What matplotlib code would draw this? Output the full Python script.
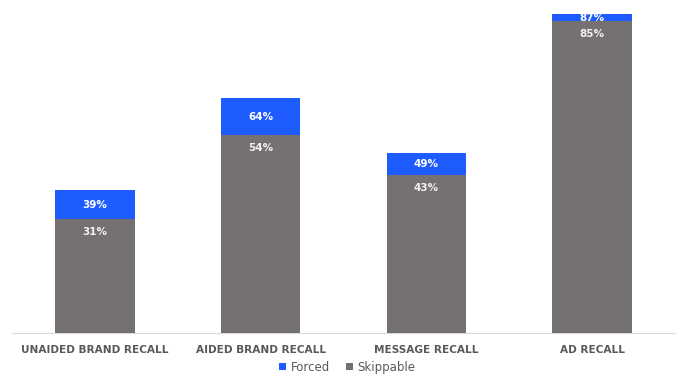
import numpy as np
import matplotlib.pyplot as plt

categories = ['UNAIDED BRAND RECALL', 'AIDED BRAND RECALL', 'MESSAGE RECALL', 'AD RECALL']
forced = [39, 64, 49, 87]
skippable = [31, 54, 43, 85]

blue = '#1F5CFF'
grey = '#767171'

fig = plt.figure(figsize=(6.81, 3.76), dpi=100)
ax = fig.add_axes([12 / 681, 0.1144, 663 / 681, 0.858])

x = np.arange(len(categories))
w = 0.48
ax.bar(x, forced, w, color=blue, label='Forced', zorder=2)
ax.bar(x, skippable, w, color=grey, label='Skippable', zorder=3)

for i in range(len(categories)):
    ax.text(x[i], (forced[i] + skippable[i]) / 2, f'{forced[i]}%', ha='center', va='center',
            color='white', fontsize=7.5, fontweight='bold', zorder=4)
    ax.text(x[i], skippable[i] - 3.5, f'{skippable[i]}%', ha='center', va='center',
            color='#F2F2F2', fontsize=7.5, fontweight='bold', zorder=4)

ax.set_xlim(-0.5, len(categories) - 0.5)
ax.set_ylim(0, 88)
ax.set_xticks(x)
ax.set_xticklabels(categories, fontsize=7.6, fontweight='bold', color='#595959')
ax.tick_params(axis='x', length=0, pad=9)
ax.set_yticks([])
for s in ['top', 'right', 'left']:
    ax.spines[s].set_visible(False)
ax.spines['bottom'].set_color('#D9D9D9')

fig.legend(loc='lower center', ncol=2, bbox_to_anchor=(0.51, -0.022), frameon=False,
           fontsize=8.5, handlelength=0.6, handleheight=0.6, handletextpad=0.4,
           columnspacing=1.3, labelcolor='#595959')

fig.savefig('out.png', dpi=100)
